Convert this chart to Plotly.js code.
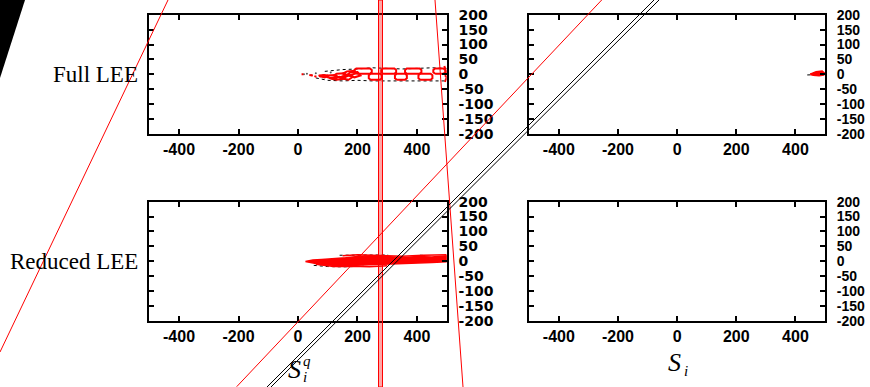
<!DOCTYPE html>
<html>
<head>
<meta charset="utf-8">
<script src="https://cdn.plot.ly/plotly-3.0.1.min.js"></script>
<style>html,body{margin:0;padding:0;background:#fff;}#chart{width:870px;height:387px;}</style>
</head>
<body>
<div id="chart"></div>
<script>
// ---------- tick labels ----------
const xTickVals = [-400, -200, 0, 200, 400];
const xTickText = ['-400', '-200', '0', '200', '400'];
const yTickVals = [-200, -150, -100, -50, 0, 50, 100, 150, 200];
const yTickText = ['-200', '-150', '-100', '-50', '0', '50', '100', '150', '200'];
const rowLabels = ['Full LEE', 'Reduced LEE'];

// ---------- Full LEE, S_i^q panel (top-left) ----------
const tlChainX = [196,242,248,248,242,196,190,190,196,null,
                  286,324,330,330,324,286,280,280,286,null,
                  366,409,415,415,409,366,360,360,366,null,
                  461,489,495,495,489,461,455,455,461,null,
                  244,276,282,282,276,244,238,238,244,null,
                  332,360,366,366,360,332,326,326,332,null,
                  411,446,452,452,446,411,405,405,411,null,
                  492,498,496,500,494,498];
const tlChainY = [2,2,7,15,20,20,15,7,2,null,
                  2,2,7,15,20,20,15,7,2,null,
                  2,2,7,15,20,20,15,7,2,null,
                  2,2,7,15,20,20,15,7,2,null,
                  -18,-18,-13,-3,2,2,-3,-13,-18,null,
                  -18,-18,-13,-3,2,2,-3,-13,-18,null,
                  -18,-18,-13,-3,2,2,-3,-13,-18,null,
                  28,10,-5,-10,-25,-15];
const tlScribX = [70,90,100,88,72,70,null, 95,120,135,125,100,95,null, 120,150,165,155,130,120,null,
                  140,170,185,178,150,140,null, 150,175,195,190,165,150,null, 165,190,210,200,175,165,null,
                  105,140,160,130,105,null, 12,18,null, 38,50,null, 55,62];
const tlScribY = [-6,-10,-4,-2,-4,-6,null, -8,-16,-10,-2,-4,-8,null, -4,-14,-6,4,2,-4,null,
                  -12,-18,-8,-2,-6,-12,null, 2,-4,4,12,10,2,null, -2,-10,-4,8,6,-2,null,
                  -12,-8,-14,-18,-12,null, 0,0,null, -2,-4,null, -6,-8];
const tlDotUpX = [90,150,200,250,300,350,400,450,500];
const tlDotUpY = [10,16,18,22,20,18,20,22,20];
const tlDotLoX = [60,100,150,200,250,300,350,400,450,500];
const tlDotLoY = [-12,-20,-22,-20,-22,-22,-20,-22,-22,-22];
const tlSpeckX = [20,30,45,60,75,85,110,130];
const tlSpeckY = [0,2,-3,4,-6,-2,6,-10];

// ---------- Full LEE, S_i panel (top-right) ----------
const trRedX = [450,470,490,497,495,480,460,450,null,460,480,495,490,470,460];
const trRedY = [0,8,10,4,-2,-4,-2,0,null,2,6,4,0,-1,2];
const trDotX = [440,455,470];
const trDotY = [-2,-2,-1];

// ---------- Reduced LEE, S_i^q panel (bottom-left) ----------
const blBandX = [25,50,80,120,160,200,250,300,350,400,450,500,500,450,400,350,300,250,200,150,100,60,25];
const blBandY = [-1,4,6,8,12,16,18,16,12,16,14,18,-2,-4,-6,-8,-10,-12,-14,-15,-13,-8,-1];
const blWispX = [150,200,250,300,350,420,500,null,60,120,180,240,300];
const blWispY = [18,22,20,18,17,20,22,null,-10,-18,-17,-19,-15];
const blDotUpX = [140,200,250,303,null,410,430];
const blDotUpY = [20,21,22,21,null,20,19];
const blDotLoX = [53,100,150,222];
const blDotLoY = [-14,-18,-19,-17];

// ---------- stray strokes across the whole figure (page pixels) ----------
const wedgeX = [0,25,0,0];
const wedgeY = [0,0,78,0];
const redSteepX = [0,168];
const redSteepY = [352,0];
const redBandX = [378.5,382.5,382.5,378.5,378.5];
const redBandY = [0,0,387,387,0];
const redNearVertX = [435,463];
const redNearVertY = [0,387];
const redDiagX = [236.7,601.7];
const redDiagY = [386.7,0];
const blackDiagAX = [267,654];
const blackDiagAY = [387,0];
const blackDiagBX = [271,659];
const blackDiagBY = [387,0];

const W = 870, H = 387;
const dom = {
  xL: [149.3/W, 446.7/W], xR: [529.3/W, 825/W],
  yT: [(H-134)/H, (H-14.7)/H], yB: [(H-320.7)/H, (H-201.7)/H]
};

function xax(domain, anchor) {
  return {domain: domain, anchor: anchor, range: [-500, 500], tickvals: xTickVals, ticktext: xTickText,
    ticks: 'inside', ticklen: 5, tickwidth: 2, tickcolor: '#000', showline: true, linewidth: 2, linecolor: '#000',
    mirror: 'ticks', showgrid: false, zeroline: false, fixedrange: true,
    tickfont: {family: 'Liberation Sans, Arial, sans-serif', size: 16, weight: 'bold', color: '#000'}};
}
function yax(domain, anchor, fam, size) {
  return {domain: domain, anchor: anchor, range: [-200, 200], tickvals: yTickVals, ticktext: yTickText,
    side: 'right', ticks: 'inside', ticklen: 5, tickwidth: 2, tickcolor: '#000', showline: true, linewidth: 2,
    linecolor: '#000', mirror: 'ticks', showgrid: false, zeroline: false, fixedrange: true, ticklabelstandoff: 7,
    tickfont: {family: fam, size: size, weight: 'bold', color: '#000'}};
}

const red = '#ff0000';
const traces = [
  // top-left
  {x: tlDotUpX, y: tlDotUpY, xaxis: 'x', yaxis: 'y', mode: 'lines', line: {color: '#000', width: 1, dash: 'dot'}},
  {x: tlDotLoX, y: tlDotLoY, xaxis: 'x', yaxis: 'y', mode: 'lines', line: {color: '#000', width: 1, dash: 'dot'}},
  {x: tlSpeckX, y: tlSpeckY, xaxis: 'x', yaxis: 'y', mode: 'markers', marker: {color: '#555', size: 2}},
  {x: tlScribX, y: tlScribY, xaxis: 'x', yaxis: 'y', mode: 'lines', line: {color: red, width: 2}},
  {x: tlChainX, y: tlChainY, xaxis: 'x', yaxis: 'y', mode: 'lines', line: {color: red, width: 2}},
  // top-right
  {x: trDotX, y: trDotY, xaxis: 'x2', yaxis: 'y2', mode: 'lines', line: {color: '#000', width: 1, dash: 'dot'}},
  {x: trRedX, y: trRedY, xaxis: 'x2', yaxis: 'y2', mode: 'lines', line: {color: red, width: 2}},
  // bottom-left
  {x: blDotUpX, y: blDotUpY, xaxis: 'x3', yaxis: 'y3', mode: 'lines', line: {color: '#000', width: 1, dash: 'dot'}},
  {x: blDotLoX, y: blDotLoY, xaxis: 'x3', yaxis: 'y3', mode: 'lines', line: {color: '#000', width: 1, dash: 'dot'}},
  {x: blBandX, y: blBandY, xaxis: 'x3', yaxis: 'y3', mode: 'lines', fill: 'toself', fillcolor: red, line: {color: red, width: 1.5}},
  {x: blWispX, y: blWispY, xaxis: 'x3', yaxis: 'y3', mode: 'lines', line: {color: red, width: 1.5}},
  // bottom-right: empty
  {x: [], y: [], xaxis: 'x4', yaxis: 'y4', mode: 'lines'},
  // overlay strokes
  {x: wedgeX, y: wedgeY, xaxis: 'x5', yaxis: 'y5', mode: 'lines', fill: 'toself', fillcolor: '#000', line: {color: '#000', width: 0}},
  {x: redSteepX, y: redSteepY, xaxis: 'x5', yaxis: 'y5', mode: 'lines', line: {color: red, width: 1}},
  {x: redBandX, y: redBandY, xaxis: 'x5', yaxis: 'y5', mode: 'lines', fill: 'toself', fillcolor: 'rgba(255,0,0,0.35)', line: {color: red, width: 1}},
  {x: redNearVertX, y: redNearVertY, xaxis: 'x5', yaxis: 'y5', mode: 'lines', line: {color: red, width: 1}},
  {x: redDiagX, y: redDiagY, xaxis: 'x5', yaxis: 'y5', mode: 'lines', line: {color: red, width: 1}},
  {x: blackDiagAX, y: blackDiagAY, xaxis: 'x5', yaxis: 'y5', mode: 'lines', line: {color: '#000', width: 1}},
  {x: blackDiagBX, y: blackDiagBY, xaxis: 'x5', yaxis: 'y5', mode: 'lines', line: {color: '#000', width: 1}}
];

const serif = 'Liberation Serif, Times New Roman, serif';
const layout = {
  width: W, height: H, margin: {l: 0, r: 0, t: 0, b: 0},
  paper_bgcolor: '#fff', plot_bgcolor: 'rgba(0,0,0,0)', showlegend: false,
  xaxis: xax(dom.xL, 'y'), yaxis: yax(dom.yT, 'x', 'DejaVu Sans, sans-serif', 14),
  xaxis2: xax(dom.xR, 'y2'), yaxis2: yax(dom.yT, 'x2', 'Liberation Sans, Arial, sans-serif', 14),
  xaxis3: xax(dom.xL, 'y3'), yaxis3: yax(dom.yB, 'x3', 'DejaVu Sans, sans-serif', 14),
  xaxis4: xax(dom.xR, 'y4'), yaxis4: yax(dom.yB, 'x4', 'Liberation Sans, Arial, sans-serif', 14),
  xaxis5: {domain: [0, 1], anchor: 'y5', range: [0, W], visible: false, fixedrange: true},
  yaxis5: {domain: [0, 1], anchor: 'x5', range: [H, 0], visible: false, fixedrange: true},
  annotations: [
    {xref: 'x5', yref: 'y5', x: 140, y: 74, text: rowLabels[0], showarrow: false, xanchor: 'right', yanchor: 'middle',
     font: {family: serif, size: 23, color: '#000'}},
    {xref: 'x5', yref: 'y5', x: 140, y: 261, text: rowLabels[1], showarrow: false, xanchor: 'right', yanchor: 'middle',
     font: {family: serif, size: 23, color: '#000'}},
    {xref: 'x5', yref: 'y5', x: 294, y: 369, text: '<i>S</i>', showarrow: false, xanchor: 'center', yanchor: 'middle',
     font: {family: serif, size: 26, color: '#000'}},
    {xref: 'x5', yref: 'y5', x: 305, y: 377, text: '<i>i</i>', showarrow: false, xanchor: 'center', yanchor: 'middle',
     font: {family: serif, size: 15, color: '#000'}},
    {xref: 'x5', yref: 'y5', x: 307, y: 361, text: '<i>q</i>', showarrow: false, xanchor: 'center', yanchor: 'middle',
     font: {family: serif, size: 15, color: '#000'}},
    {xref: 'x5', yref: 'y5', x: 674, y: 362, text: '<i>S</i>', showarrow: false, xanchor: 'center', yanchor: 'middle',
     font: {family: serif, size: 26, color: '#000'}},
    {xref: 'x5', yref: 'y5', x: 686, y: 371, text: '<i>i</i>', showarrow: false, xanchor: 'center', yanchor: 'middle',
     font: {family: serif, size: 15, color: '#000'}}
  ]
};

Plotly.newPlot('chart', traces, layout, {displayModeBar: false, staticPlot: true});
</script>
</body>
</html>
